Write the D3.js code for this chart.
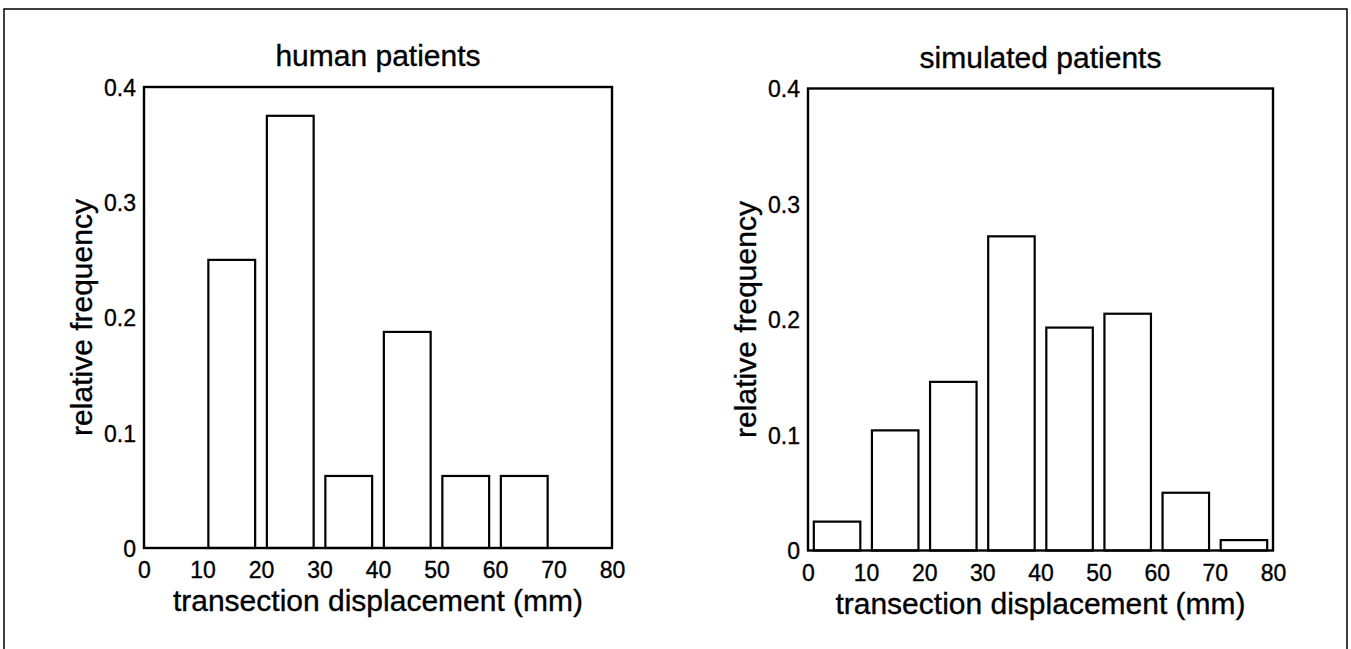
<!DOCTYPE html>
<html>
<head>
<meta charset="utf-8">
<script src="https://cdn.jsdelivr.net/npm/d3@7"></script>
<style>
  body { margin: 0; background: #fff; }
  text { font-family: "Liberation Sans", Arial, Helvetica, sans-serif; fill: #000; stroke: #000; stroke-width: 0.35px; }
</style>
</head>
<body>
<div id="chart"></div>
<script>
// Histograms of transection displacement: human vs simulated patients

// data
const binCenters = [5, 15, 25, 35, 45, 55, 65, 75];
const humanFreq = [0, 0.25, 0.375, 0.0625, 0.1875, 0.0625, 0.0625, 0];
const simulatedFreq = [0.025, 0.104, 0.146, 0.272, 0.193, 0.205, 0.05, 0.009];
const xTicks = [0, 10, 20, 30, 40, 50, 60, 70, 80];
const yTicks = [0, 0.1, 0.2, 0.3, 0.4];
const titles = ["human patients", "simulated patients"];

const W = 1351, H = 649;
const binWidth = 10, barFrac = 0.8;

const svg = d3.select("#chart")
  .append("svg")
  .attr("width", W)
  .attr("height", H);

// outer frame (bottom edge is cut off in the original)
svg.append("path")
  .attr("d", `M4,${H + 5}V9H1347V${H + 5}`)
  .attr("fill", "none")
  .attr("stroke", "#000")
  .attr("stroke-width", 1.5);

const panels = [
  {left: 144, right: 612, top: 87, bottom: 548, values: humanFreq, title: titles[0]},
  {left: 808, right: 1273, top: 88.5, bottom: 550.5, values: simulatedFreq, title: titles[1]}
];

panels.forEach(function(p) {
  const x = d3.scaleLinear().domain([0, 80]).range([p.left, p.right]);
  const y = d3.scaleLinear().domain([0, 0.4]).range([p.bottom, p.top]);

  const g = svg.append("g");

  // bars
  const bars = binCenters.map((c, i) => ({c: c, v: p.values[i]})).filter(d => d.v > 0);
  g.selectAll("rect.bar")
    .data(bars)
    .join("rect")
    .attr("class", "bar")
    .attr("x", d => x(d.c - binWidth * barFrac / 2))
    .attr("width", d => x(d.c + binWidth * barFrac / 2) - x(d.c - binWidth * barFrac / 2))
    .attr("y", d => y(d.v))
    .attr("height", d => y(0) - y(d.v))
    .attr("fill", "#fff")
    .attr("stroke", "#000")
    .attr("stroke-width", 2.2);

  // axes box
  g.append("rect")
    .attr("x", x(0))
    .attr("y", y(0.4))
    .attr("width", x(80) - x(0))
    .attr("height", y(0) - y(0.4))
    .attr("fill", "none")
    .attr("stroke", "#000")
    .attr("stroke-width", 2.4);

  // x axis
  const xa = g.append("g")
    .attr("transform", `translate(0,${p.bottom})`)
    .call(d3.axisBottom(x).tickValues(xTicks).tickSize(0).tickFormat(d3.format("d")));
  xa.select(".domain").remove();
  xa.selectAll("text")
    .attr("y", 30)
    .attr("dy", null)
    .style("font-size", "23px");

  // y axis
  const ya = g.append("g")
    .attr("transform", `translate(${p.left},0)`)
    .call(d3.axisLeft(y).tickValues(yTicks).tickSize(0).tickPadding(8).tickFormat(d3.format("~g")));
  ya.select(".domain").remove();
  ya.selectAll("text")
    .attr("dy", "0.36em")
    .style("font-size", "23px");

  // title
  g.append("text")
    .attr("x", (p.left + p.right) / 2)
    .attr("y", p.top - 21)
    .attr("text-anchor", "middle")
    .style("font-size", "30px")
    .text(p.title);

  // x label
  g.append("text")
    .attr("x", (p.left + p.right) / 2)
    .attr("y", p.bottom + 63)
    .attr("text-anchor", "middle")
    .style("font-size", "30px")
    .text("transection displacement (mm)");

  // y label
  g.append("text")
    .attr("transform", `translate(${p.left - 52},${(p.top + p.bottom) / 2}) rotate(-90)`)
    .attr("text-anchor", "middle")
    .style("font-size", "30px")
    .text("relative frequency");
});
</script>
</body>
</html>
